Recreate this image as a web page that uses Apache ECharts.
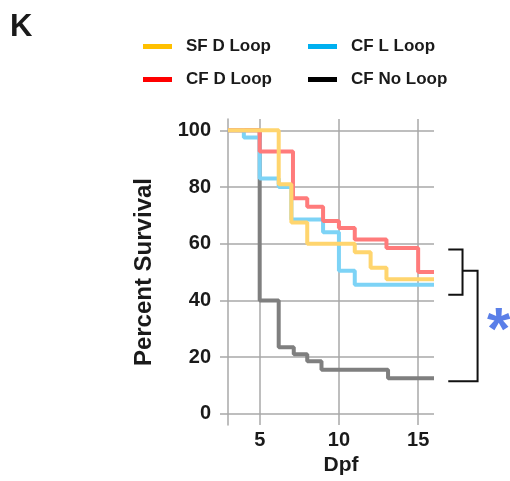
<!DOCTYPE html>
<html>
<head>
<meta charset="utf-8">
<script src="https://cdn.jsdelivr.net/npm/echarts@6/dist/echarts.min.js"></script>
<style>
html, body { margin: 0; padding: 0; background: #fff; }
#chart { width: 510px; height: 481px; }
</style>
</head>
<body>
<div id="chart"></div>
<script>
// survival curves: day where each step starts, and the value held from there
var sfDDays = [3, 6.2, 7, 8, 11, 12, 13, 16];
var sfDValues = [100, 81, 67.5, 60, 57, 51.5, 47.5, 47.5];
var cfLDays = [3, 4, 5, 6.2, 7, 9, 10, 11, 16];
var cfLValues = [100, 97.5, 83, 80, 68.5, 64, 50.5, 45.5, 45.5];
var cfDDays = [3, 5, 7.1, 8, 9, 10, 11, 13, 15, 16];
var cfDValues = [100, 92.5, 76, 73, 68, 65.5, 61.5, 58.5, 50, 50];
var cfNoDays = [3, 5, 6.2, 7.15, 8, 8.9, 13.1, 16];
var cfNoValues = [100, 40, 23.5, 21, 18.5, 15.5, 12.5, 12.5];

var xTicks = [5, 10, 15];
var yTicks = [0, 20, 40, 60, 80, 100];

// significance brackets (data units)
var bracketX = [16.9, 17.8, 18.75];
var smallBracket = [58, 42];
var bigBracket = [50.5, 11.5];

var font = "'Liberation Sans', Arial, Helvetica, sans-serif";
var textColor = '#1a1a1a';
var gridColor = '#a8a8a8';

function pairs(days, values) {
    return days.map(function (d, i) { return [d, values[i]]; });
}

function stepSeries(name, days, values, color, lineColor, z) {
    return {
        name: name,
        type: 'line',
        step: 'end',
        symbol: 'none',
        showSymbol: false,
        data: pairs(days, values),
        itemStyle: { color: color },
        lineStyle: { color: lineColor, width: 4 },
        z: z,
        animation: false
    };
}

function legendAt(name, color, left, top) {
    return {
        data: [{ name: name, itemStyle: { color: color } }],
        left: left,
        top: top,
        padding: 0,
        icon: 'rect',
        itemWidth: 29,
        itemHeight: 5,
        textStyle: {
            fontSize: 17,
            fontWeight: 'bold',
            color: textColor,
            fontFamily: font,
            padding: [0, 0, 0, 9]
        }
    };
}

var chart = echarts.init(document.getElementById('chart'));
var option = {
    animation: false,
    title: {
        text: 'K',
        left: 10,
        top: 12,
        padding: 0,
        textStyle: { fontSize: 31, fontWeight: 'bold', color: textColor, fontFamily: font }
    },
    legend: [
        legendAt('SF D Loop', '#FFC000', 143, 38),
        legendAt('CF L Loop', '#00B0F0', 308, 38),
        legendAt('CF D Loop', '#FF0000', 143, 71),
        legendAt('CF No Loop', '#000000', 308, 71)
    ],
    grid: {
        left: 228,
        right: 76,
        top: 119,
        bottom: 54
    },
    xAxis: {
        type: 'value',
        min: 3,
        max: 16,
        name: 'Dpf',
        nameLocation: 'middle',
        nameGap: 29,
        nameTextStyle: {
            fontSize: 21, fontWeight: 'bold', color: textColor, fontFamily: font,
            padding: [0, 0, 0, 20]
        },
        axisLine: { show: false },
        axisTick: { show: false, customValues: xTicks },
        axisLabel: {
            customValues: xTicks,
            margin: 5,
            fontSize: 20, fontWeight: 'bold', color: textColor, fontFamily: font
        },
        splitLine: { show: true, lineStyle: { color: gridColor, width: 1.5 } }
    },
    yAxis: {
        type: 'value',
        min: -4,
        max: 104,
        name: 'Percent Survival',
        nameLocation: 'middle',
        nameRotate: 90,
        nameGap: 72,
        nameTextStyle: { fontSize: 24, fontWeight: 'bold', color: textColor, fontFamily: font },
        axisLine: { show: true, lineStyle: { color: gridColor, width: 1.5 } },
        axisTick: {
            show: true, customValues: yTicks, length: 8,
            lineStyle: { color: gridColor, width: 1.5 }
        },
        axisLabel: {
            customValues: yTicks,
            margin: 17,
            fontSize: 20, fontWeight: 'bold', color: textColor, fontFamily: font
        },
        splitLine: { show: true, lineStyle: { color: gridColor, width: 1.5 } }
    },
    series: [
        stepSeries('CF No Loop', cfNoDays, cfNoValues, '#000000', '#7f7f7f', 1),
        stepSeries('CF L Loop', cfLDays, cfLValues, '#00B0F0', '#7dd3f6', 2),
        stepSeries('CF D Loop', cfDDays, cfDValues, '#FF0000', '#ff7b7b', 3),
        stepSeries('SF D Loop', sfDDays, sfDValues, '#FFC000', '#ffd56e', 4)
    ]
};
chart.setOption(option);

// brackets and the cut-off heading, placed through the chart's own scales
function px(x, y) {
    return chart.convertToPixel({ gridIndex: 0 }, [x, y]);
}
var sTop = px(bracketX[0], smallBracket[0]);
var sTopR = px(bracketX[1], smallBracket[0]);
var sBot = px(bracketX[1], smallBracket[1]);
var sBotL = px(bracketX[0], smallBracket[1]);
var bTop = px(bracketX[1], bigBracket[0]);
var bTopR = px(bracketX[2], bigBracket[0]);
var bBot = px(bracketX[2], bigBracket[1]);
var bBotL = px(bracketX[0], bigBracket[1]);

chart.setOption({
    graphic: [
        {
            type: 'polyline',
            shape: { points: [sTop, sTopR, sBot, sBotL] },
            style: { stroke: '#111', lineWidth: 2, fill: null }
        },
        {
            type: 'polyline',
            shape: { points: [bTop, bTopR, bBot, bBotL] },
            style: { stroke: '#111', lineWidth: 2, fill: null }
        },
        {
            type: 'text',
            x: bTopR[0] + 21,
            y: (bTopR[1] + bBot[1]) / 2 + 7,
            style: {
                text: '*',
                fill: '#5a7fe8',
                font: 'bold 60px ' + font,
                textAlign: 'center',
                textVerticalAlign: 'middle'
            }
        },
        {
            type: 'text',
            x: 289,
            y: 5,
            style: {
                text: 'Percent',
                fill: textColor,
                font: 'bold 21px ' + font,
                textAlign: 'center',
                textVerticalAlign: 'bottom'
            }
        }
    ]
});
</script>
</body>
</html>
